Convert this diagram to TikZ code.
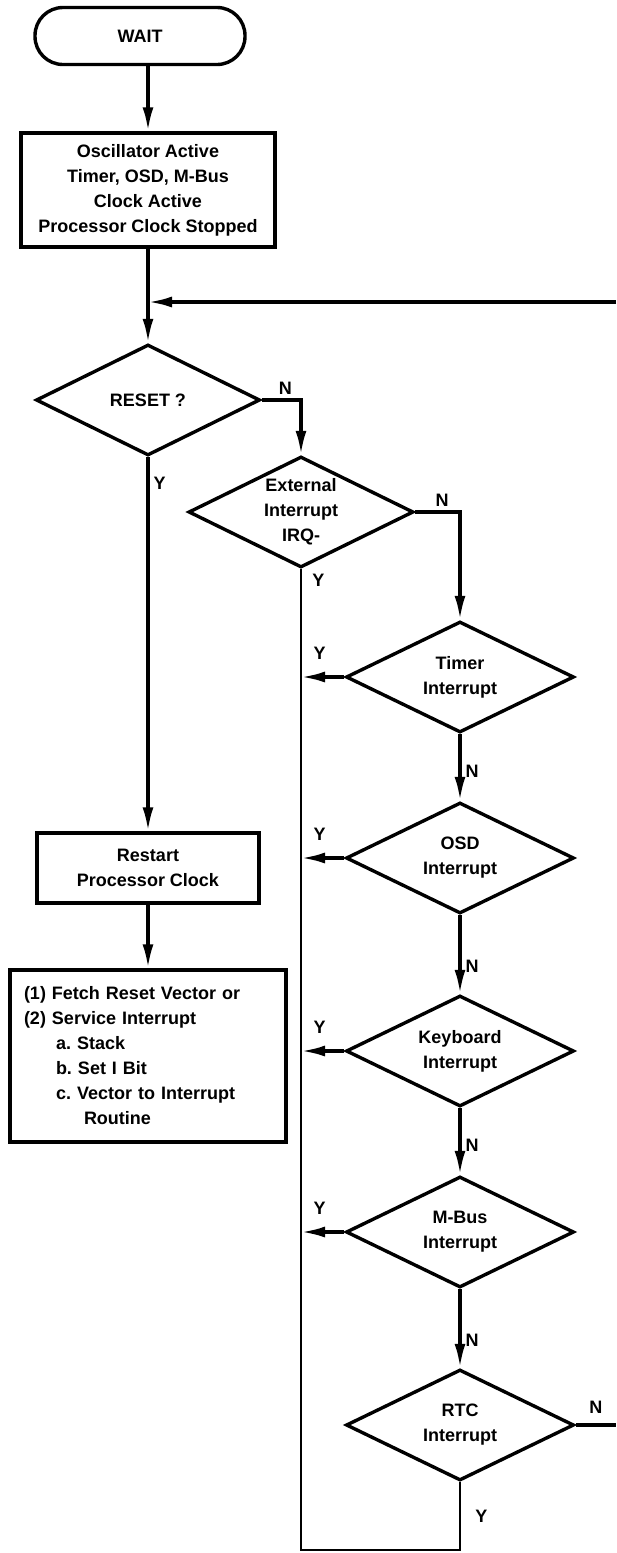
\documentclass[tikz,border=0pt]{standalone}
\usepackage{fontspec}
\setmainfont{Liberation Sans}
\usepackage{tikz}
\usetikzlibrary{arrows.meta,shapes.geometric}
\frenchspacing

\begin{document}
\begin{tikzpicture}[x=1pt,y=-1pt,>={Latex[length=24pt,width=11pt]},line width=3.4pt,
  every node/.style={font=\fontsize{18}{25}\selectfont\bfseries},
  start node/.style={rectangle,rounded corners=28pt,draw,minimum width=210pt,minimum height=57pt},
  box node/.style={rectangle,draw,align=center,inner sep=0pt},
  test node/.style={diamond,draw,align=center,aspect=2,inner sep=0pt,minimum width=228pt,minimum height=111pt},
  yn/.style={inner sep=4pt}]
  \useasboundingbox (0,0) rectangle (616,1553);

  \node[start node] (wait) at (140,36) {WAIT};
  \node[box node,minimum width=254pt,minimum height=114pt] (osc) at (148,190)
    {Oscillator Active\\Timer, OSD, M-Bus\\Clock Active\\Processor Clock Stopped};
  \node[test node,minimum width=224pt] (reset) at (148,400) {RESET ?};
  \node[box node,minimum width=222pt,minimum height=70pt] (restart) at (148,868)
    {Restart\\Processor Clock};
  \node[box node,minimum width=276pt,minimum height=172pt,text width=248pt,align=left,inner xsep=14pt] (service) at (148,1056)
    {(1) Fetch Reset Vector or\\(2) Service Interrupt\\\hspace*{32pt}a. Stack\\\hspace*{32pt}b. Set I Bit\\
     \hspace*{32pt}c. Vector to Interrupt\\\hspace*{60pt}Routine};

  \node[test node,minimum width=225pt] (ext) at (301,512) {External\\Interrupt\\IRQ-};
  \node[test node] (timer) at (460,677) {Timer\\Interrupt};
  \node[test node] (osd) [below of=timer,node distance=181pt] {OSD\\Interrupt};
  \node[test node] (kbd) [below of=osd,node distance=193pt] {Keyboard\\Interrupt};
  \node[test node] (mbus) [below of=kbd,node distance=181pt] {M-Bus\\Interrupt};
  \node[test node] (rtc) [below of=mbus,node distance=193pt] {RTC\\Interrupt};

  \coordinate (join) at (148,302);
  \coordinate (loop) at (616,302);
  \coordinate (bus) at (301,1550);

  % main column
  \draw[->] (wait.south -| osc.north) -- (osc.north);
  \draw[->] (osc) -- (reset);
  \draw[->] (loop) -- (join);
  \draw[->] (reset) -- node[yn,pos=0.07,right] (y0) {Y} (restart);
  \draw[->] (restart) -- (service);

  % interrupt tests
  \draw[->] (reset.east) -| node[yn,pos=0.3,above] (n0) {N} (ext.north);
  \draw[->] (ext.east) -| node[yn,pos=0.3,above] (n1) {N} (timer.north);
  \path[->] (timer) edge node[yn,pos=0.55,right] (n2) {N} (osd)
    (osd) edge node[yn,pos=0.65,right] (n3) {N} (kbd)
    (kbd) edge node[yn,pos=0.55,right] (n4) {N} (mbus)
    (mbus) edge node[yn,pos=0.65,right] (n5) {N} (rtc);
  \draw (rtc.east) -- node[yn,above,yshift=6pt] (n6) {N} (rtc.east -| loop);

  % yes branches
  \draw[line width=2.6pt] (ext.south) -- node[yn,pos=0,below right,xshift=6pt] (y1) {Y} (bus)
    -| node[yn,pos=0.75,right,xshift=10pt] (y7) {Y} (rtc.south);
  \foreach \t/\k in {timer/2,osd/3,kbd/4,mbus/5}
    \draw[->] (\t.west) -- node[yn,above,yshift=12pt,xshift=-3pt] (y\k) {Y} (\t.west -| bus);
\end{tikzpicture}
\end{document}
